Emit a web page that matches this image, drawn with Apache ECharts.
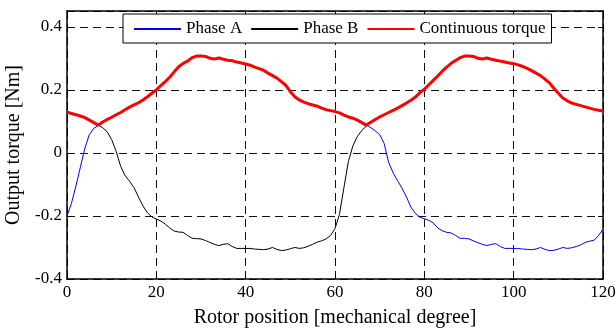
<!DOCTYPE html>
<html>
<head>
<meta charset="utf-8">
<script src="https://cdn.jsdelivr.net/npm/echarts@6/dist/echarts.min.js"></script>
<style>
html,body{margin:0;padding:0;background:#fff;}
#chart{width:616px;height:329px;}
</style>
</head>
<body>
<div id="chart"></div>
<script>
// Rotor position grid (mechanical degrees), 1-degree step from 0 to 120
const positionStart = 0;
const positionStep = 1;

const seriesNames = ['Phase A', 'Phase B', 'Continuous torque'];

const phaseA = [
  -0.200,-0.160,-0.105,-0.045,0.015,0.058,0.078,0.086,
  0.098,0.106,0.113,0.121,0.128,0.137,0.145,0.152,0.159,0.168,0.178,0.189,
  0.200,0.213,0.226,0.240,0.257,0.273,0.284,0.291,0.302,0.307,
  0.307,0.306,0.300,0.298,0.301,0.297,0.294,0.292,0.288,0.285,
  0.282,0.278,0.272,0.267,0.262,0.253,0.245,0.237,0.226,0.214,
  0.194,0.178,0.168,0.161,0.156,0.152,0.148,0.142,0.137,0.134,
  0.131,0.127,0.120,0.114,0.110,0.104,0.096,0.088,
  0.080,0.070,0.058,0.030,-0.030,-0.063,-0.088,-0.112,-0.140,-0.172,-0.192,-0.204,
  -0.209,-0.214,-0.222,-0.238,-0.247,-0.252,-0.254,-0.262,-0.271,-0.271,
  -0.273,-0.279,-0.285,-0.290,-0.294,-0.290,-0.288,-0.297,-0.303,-0.303,
  -0.303,-0.303,-0.305,-0.306,-0.307,-0.305,-0.300,-0.306,-0.310,-0.309,
  -0.305,-0.300,-0.303,-0.301,-0.297,-0.292,-0.284,-0.280,-0.277,-0.262,
  -0.243
];

const phaseB = [
  0.129,0.125,0.121,0.117,0.112,0.104,0.096,0.088,
  0.080,0.067,0.042,0.005,-0.042,-0.072,-0.090,-0.110,-0.140,-0.168,-0.190,-0.203,
  -0.210,-0.216,-0.226,-0.238,-0.248,-0.251,-0.252,-0.262,-0.271,-0.272,
  -0.273,-0.278,-0.284,-0.290,-0.294,-0.290,-0.288,-0.297,-0.303,-0.303,
  -0.303,-0.303,-0.305,-0.306,-0.307,-0.305,-0.300,-0.306,-0.310,-0.308,
  -0.304,-0.300,-0.303,-0.301,-0.296,-0.290,-0.283,-0.279,-0.273,-0.262,
  -0.240,-0.195,-0.110,-0.027,0.022,0.052,0.071,0.085,
  0.097,0.106,0.114,0.121,0.128,0.135,0.142,0.150,0.158,0.167,0.177,0.191,
  0.202,0.216,0.230,0.244,0.259,0.272,0.284,0.293,0.302,0.307,
  0.307,0.306,0.300,0.298,0.301,0.297,0.294,0.291,0.288,0.285,
  0.283,0.279,0.274,0.268,0.261,0.253,0.245,0.234,0.222,0.205,
  0.189,0.174,0.165,0.158,0.154,0.150,0.146,0.142,0.138,0.135,
  0.133
];

const continuousTorque = [
  0.129,0.125,0.121,0.117,0.112,0.104,0.096,0.088,0.098,0.106,
  0.113,0.121,0.128,0.137,0.145,0.152,0.159,0.168,0.178,0.189,
  0.200,0.213,0.226,0.240,0.257,0.273,0.284,0.291,0.302,0.307,
  0.307,0.306,0.300,0.298,0.301,0.297,0.294,0.292,0.288,0.285,
  0.282,0.278,0.272,0.267,0.262,0.253,0.245,0.237,0.226,0.214,
  0.194,0.178,0.168,0.161,0.156,0.152,0.148,0.142,0.137,0.134,
  0.131,0.127,0.120,0.114,0.110,0.104,0.096,0.088,0.097,0.106,
  0.114,0.121,0.128,0.135,0.142,0.150,0.158,0.167,0.177,0.191,
  0.202,0.216,0.230,0.244,0.259,0.272,0.284,0.293,0.302,0.307,
  0.307,0.306,0.300,0.298,0.301,0.297,0.294,0.291,0.288,0.285,
  0.283,0.279,0.274,0.268,0.261,0.253,0.245,0.234,0.222,0.205,
  0.189,0.174,0.165,0.158,0.154,0.150,0.146,0.142,0.138,0.135,
  0.133
];

const xTicks = [0, 20, 40, 60, 80, 100, 120];
const yTicks = [-0.4, -0.2, 0, 0.2, 0.4];

function pairs(arr) {
  return arr.map((v, i) => [positionStart + i * positionStep, v]);
}

const FONT = '"Liberation Serif", "Times New Roman", serif';
const chart = echarts.init(document.getElementById('chart'), null, {renderer: 'canvas'});

const gridDash = {color: '#111', width: 1, type: [8, 5]};
const yFmt = v => {
  const r = Math.round(v * 10) / 10;
  return yTicks.some(t => Math.abs(t - r) < 1e-9) && Math.abs(v - r) < 1e-6 ? String(r) : '';
};

chart.setOption({
  animation: false,
  backgroundColor: '#fff',
  grid: {left: 67, right: 13, top: 11, bottom: 50, show: false, containLabel: false, outerBoundsMode: 'none'},
  legend: {
    left: 123, top: 14,
    padding: [6, 6, 5, 10],
    itemGap: 8,
    itemWidth: 47, itemHeight: 14,
    backgroundColor: '#fff',
    borderColor: '#000', borderWidth: 1, borderRadius: 0,
    itemStyle: {opacity: 0},
    textStyle: {fontFamily: FONT, fontSize: 17, lineHeight: 18, color: '#000'},
    data: seriesNames
  },
  xAxis: [{
    type: 'value', min: 0, max: 120, interval: 20,
    name: 'Rotor position [mechanical degree]',
    nameLocation: 'middle', nameGap: 29,
    nameTextStyle: {fontFamily: FONT, fontSize: 20, color: '#000'},
    axisLine: {show: true, onZero: false, lineStyle: {color: '#000', width: 1.5}},
    axisTick: {show: true, inside: true, length: 5, lineStyle: {color: '#000'}},
    axisLabel: {fontFamily: FONT, fontSize: 17, color: '#000', margin: 5},
    splitLine: {show: true, lineStyle: gridDash}
  }, {
    type: 'value', min: 0, max: 120, interval: 20, position: 'top',
    axisLine: {show: true, onZero: false, lineStyle: {color: '#000', width: 1.5}},
    axisTick: {show: true, inside: true, length: 5, lineStyle: {color: '#000'}},
    axisLabel: {show: false},
    splitLine: {show: false}
  }],
  yAxis: [{
    type: 'value', min: -0.4, max: 0.45, interval: 0.2,
    name: 'Output torque [Nm]',
    nameLocation: 'middle', nameGap: 41,
    nameTextStyle: {fontFamily: FONT, fontSize: 20, color: '#000'},
    axisLine: {show: true, onZero: false, lineStyle: {color: '#000', width: 1.5}},
    axisTick: {show: true, inside: true, length: 5, lineStyle: {color: '#000'}},
    axisLabel: {fontFamily: FONT, fontSize: 17, color: '#000', margin: 5, formatter: yFmt, showMaxLabel: false},
    splitLine: {show: true, lineStyle: gridDash}
  }, {
    type: 'value', min: -0.4, max: 0.45, interval: 0.2, position: 'right',
    axisLine: {show: true, onZero: false, lineStyle: {color: '#000', width: 1.5}},
    axisTick: {show: true, inside: true, length: 5, lineStyle: {color: '#000'}},
    axisLabel: {show: false},
    splitLine: {show: false}
  }],
  series: [{
    name: seriesNames[0], type: 'line', data: pairs(phaseA),
    symbol: 'none', smooth: false,
    lineStyle: {color: '#0000ff', width: 1}, itemStyle: {color: '#0000ff'}
  }, {
    name: seriesNames[1], type: 'line', data: pairs(phaseB),
    symbol: 'none', smooth: false,
    lineStyle: {color: '#000', width: 1}, itemStyle: {color: '#000'}
  }, {
    name: seriesNames[2], type: 'line', data: pairs(continuousTorque),
    symbol: 'none', smooth: false,
    lineStyle: {color: '#ff0000', width: 3}, itemStyle: {color: '#ff0000'}
  }]
});
</script>
</body>
</html>
